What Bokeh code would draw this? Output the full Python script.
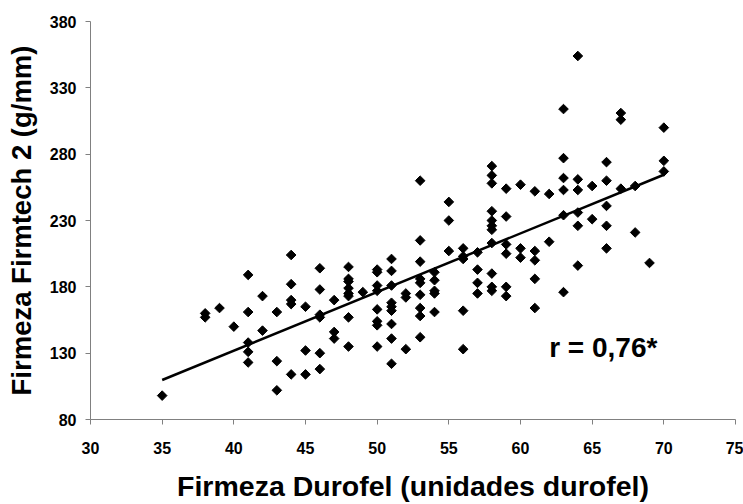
import numpy as np
from bokeh.plotting import figure
from bokeh.models import FixedTicker, Range1d, Label
from bokeh.embed import file_html
from bokeh.resources import INLINE

# Durofel firmness (x) grouped by integer value, with Firmtech 2 firmness (y)
durofel_x = (
    [35] + [38]*2 + [39] + [40] + [41]*5 + [42]*2 + [43]*3 + [44]*5 + [45]*3 +
    [46]*6 + [47]*3 + [48]*8 + [49] + [50]*8 + [51]*9 + [52]*3 + [53]*9 +
    [54]*5 + [55]*3 + [56]*5 + [57]*4 + [58]*11 + [59]*6 + [60]*3 + [61]*5 +
    [62]*2 + [63]*6 + [64]*6 + [65]*2 + [66]*5 + [67]*3 + [68]*2 + [69] + [70]*3
)
firmtech_y = [
    98,
    160, 157,
    164,
    150,
    189, 161, 138, 131, 123,
    173, 147,
    161, 124, 102,
    204, 182, 170, 167, 114,
    165, 132, 114,
    194, 178, 159, 157, 130, 118,
    170, 146, 141,
    195, 186, 184, 179, 175, 173, 157, 135,
    176,
    193, 191, 181, 177, 163, 154, 151, 135,
    201, 192, 181, 168, 165, 162, 152, 141, 122,
    175, 172, 133,
    260, 215, 199, 186, 183, 174, 164, 158, 142,
    191, 185, 177, 175, 161,
    244, 230, 207,
    209, 203, 201, 162, 133,
    206, 193, 183, 175,
    271, 264, 258, 237, 230, 226, 223, 213, 190, 180, 177,
    254, 233, 212, 205, 180, 173,
    257, 209, 202,
    252, 207, 200, 186, 164,
    250, 214,
    314, 277, 262, 253, 234, 176,
    354, 261, 253, 236, 226, 196,
    256, 231,
    274, 260, 241, 226, 209,
    311, 306, 254,
    256, 221,
    198,
    300, 275, 267,
]

x_ticks = [30, 35, 40, 45, 50, 55, 60, 65, 70, 75]
y_ticks = [80, 130, 180, 230, 280, 330, 380]
r_text = "r = 0,76*"
r_pos = (62, 134)

xs = np.array(durofel_x, dtype=float)
ys = np.array(firmtech_y, dtype=float)
slope, intercept = np.polyfit(xs, ys, 1)
fit_x = np.array([xs.min(), xs.max()])
fit_y = slope * fit_x + intercept

p = figure(width=743, height=504, output_backend="svg", toolbar_location=None,
           x_range=Range1d(30, 75), y_range=Range1d(80, 380),
           min_border_left=90, min_border_right=8, min_border_top=21,
           min_border_bottom=79)
p.outline_line_color = None
p.grid.visible = False
p.background_fill_color = "white"
p.border_fill_color = "white"

p.line(fit_x, fit_y, line_color="black", line_width=2.5)
p.scatter(xs, ys, marker="square", angle=np.pi / 4, size=6.8,
          fill_color="black", line_color="black")

font = "Liberation Sans"
for ax, ticks in ((p.xaxis, x_ticks), (p.yaxis, y_ticks)):
    ax.ticker = FixedTicker(ticks=ticks)
    ax.minor_tick_line_color = None
    ax.major_tick_in = 0
    ax.major_tick_out = 5
    ax.axis_line_color = "#808080"
    ax.major_tick_line_color = "#808080"
    ax.major_label_text_font = font
    ax.major_label_text_font_style = "bold"
    ax.major_label_text_font_size = "16px"
    ax.major_label_text_color = "black"
    ax.axis_label_text_font = font
    ax.axis_label_text_font_style = "bold"
    ax.axis_label_text_color = "black"

p.xaxis.axis_label = "Firmeza Durofel (unidades durofel)"
p.yaxis.axis_label = "Firmeza Firmtech 2 (g/mm)"
p.xaxis.axis_label_text_font_size = "28.5px"
p.yaxis.axis_label_text_font_size = "27.5px"
p.xaxis.major_label_standoff = 17
p.yaxis.major_label_standoff = 9
p.xaxis.axis_label_standoff = 13
p.yaxis.axis_label_standoff = 10

p.add_layout(Label(x=r_pos[0], y=r_pos[1], text=r_text, text_font=font,
                   text_font_style="bold", text_font_size="28px",
                   text_color="black", text_baseline="alphabetic"))

open("out.html", "w").write(file_html(p, INLINE))
